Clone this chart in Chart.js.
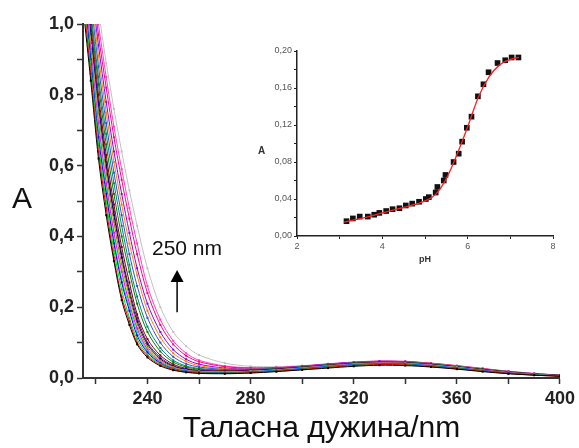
<!DOCTYPE html>
<html>
<head>
<meta charset="utf-8">
<script src="https://cdn.jsdelivr.net/npm/chart.js@4.4.1/dist/chart.umd.min.js"></script>
<style>
  html, body { margin:0; padding:0; background:#fff; }
  #wrap { position:relative; width:579px; height:448px; overflow:hidden; }
  #main { position:absolute; left:0; top:0; }
  #inset { position:absolute; left:230px; top:30px; }
  .lbl { position:absolute; font-family:"Liberation Sans", Arial, sans-serif; color:#111; white-space:nowrap; }
</style>
</head>
<body>
<div id="wrap">
  <canvas id="main" width="579" height="448"></canvas>
  <canvas id="inset" width="340" height="240"></canvas>
  <div class="lbl" style="left:12px;top:183px;font-size:30px;line-height:30px;">A</div>
  <div class="lbl" style="left:152px;top:237px;font-size:21px;line-height:21px;">250 nm</div>
  <div class="lbl" style="left:258px;top:146px;font-size:10px;line-height:10px;font-weight:bold;color:#333;">A</div>
</div>
<script>
// ---------- main chart data ----------
const wavelengths = [215,218,221,224,227,230,233,236,240,245,250,255,260,270,280,290,300,310,320,330,340,350,360,370,380,390,400];
const s01 = [1.05,0.84,0.62,0.46,0.33,0.22,0.15,0.095,0.058,0.034,0.022,0.016,0.013,0.012,0.014,0.018,0.023,0.028,0.033,0.036,0.035,0.031,0.025,0.018,0.012,0.008,0.005];
const s02 = [1.08,0.86,0.64,0.48,0.34,0.23,0.16,0.10,0.062,0.037,0.024,0.017,0.014,0.013,0.015,0.019,0.024,0.030,0.035,0.038,0.037,0.032,0.026,0.019,0.013,0.008,0.005];
const s03 = [1.10,0.88,0.66,0.50,0.36,0.25,0.17,0.11,0.066,0.040,0.025,0.018,0.015,0.014,0.016,0.020,0.025,0.031,0.036,0.039,0.038,0.033,0.027,0.020,0.013,0.009,0.006];
const s04 = [1.12,0.90,0.68,0.52,0.38,0.27,0.19,0.12,0.072,0.042,0.026,0.019,0.016,0.015,0.017,0.021,0.026,0.032,0.037,0.040,0.039,0.034,0.028,0.021,0.014,0.009,0.006];
const s05 = [1.13,0.91,0.70,0.53,0.39,0.28,0.20,0.13,0.076,0.044,0.027,0.020,0.017,0.016,0.018,0.022,0.027,0.033,0.038,0.041,0.040,0.035,0.029,0.021,0.014,0.009,0.006];
const s06 = [1.15,0.93,0.72,0.55,0.41,0.30,0.21,0.14,0.080,0.046,0.028,0.021,0.018,0.016,0.018,0.022,0.028,0.034,0.039,0.042,0.041,0.036,0.029,0.022,0.015,0.010,0.006];
const s07 = [1.16,0.94,0.73,0.56,0.42,0.31,0.22,0.145,0.083,0.047,0.029,0.021,0.018,0.017,0.019,0.023,0.028,0.034,0.039,0.042,0.041,0.036,0.030,0.022,0.015,0.010,0.006];
const s08 = [1.18,0.95,0.75,0.58,0.44,0.32,0.23,0.15,0.088,0.050,0.031,0.022,0.019,0.017,0.019,0.023,0.029,0.035,0.040,0.043,0.042,0.037,0.030,0.023,0.016,0.010,0.006];
const s09 = [1.19,0.97,0.77,0.60,0.46,0.34,0.24,0.16,0.095,0.054,0.033,0.024,0.020,0.018,0.020,0.024,0.029,0.035,0.040,0.043,0.042,0.037,0.031,0.023,0.016,0.010,0.006];
const s10 = [1.20,0.98,0.78,0.61,0.47,0.35,0.25,0.17,0.10,0.058,0.035,0.025,0.021,0.019,0.021,0.025,0.030,0.036,0.041,0.044,0.043,0.038,0.031,0.023,0.016,0.011,0.007];
const s11 = [1.22,1.00,0.80,0.63,0.49,0.37,0.27,0.18,0.11,0.064,0.039,0.027,0.022,0.020,0.022,0.025,0.030,0.036,0.041,0.044,0.043,0.038,0.031,0.024,0.017,0.011,0.007];
const s12 = [1.24,1.02,0.83,0.66,0.52,0.40,0.30,0.21,0.13,0.075,0.045,0.031,0.025,0.021,0.022,0.026,0.031,0.037,0.042,0.045,0.044,0.039,0.032,0.024,0.017,0.011,0.007];
const s13 = [1.26,1.04,0.85,0.69,0.55,0.43,0.32,0.23,0.145,0.085,0.050,0.034,0.027,0.022,0.023,0.026,0.031,0.037,0.042,0.045,0.044,0.039,0.032,0.024,0.017,0.011,0.007];
const s14 = [1.28,1.07,0.88,0.72,0.58,0.46,0.35,0.26,0.17,0.10,0.060,0.040,0.031,0.024,0.024,0.027,0.032,0.038,0.043,0.046,0.045,0.040,0.033,0.025,0.018,0.012,0.007];
const s15 = [1.30,1.10,0.91,0.75,0.61,0.49,0.38,0.29,0.19,0.115,0.070,0.047,0.035,0.026,0.025,0.027,0.032,0.038,0.043,0.046,0.045,0.041,0.034,0.026,0.018,0.012,0.008];
const s16 = [1.32,1.12,0.94,0.78,0.64,0.52,0.41,0.31,0.21,0.13,0.080,0.053,0.039,0.028,0.026,0.028,0.033,0.039,0.044,0.047,0.046,0.041,0.034,0.026,0.018,0.012,0.008];
const s17 = [1.34,1.15,0.97,0.82,0.68,0.56,0.45,0.35,0.24,0.15,0.095,0.063,0.046,0.032,0.028,0.029,0.033,0.039,0.044,0.047,0.046,0.041,0.034,0.026,0.018,0.012,0.008];
const s18 = [1.36,1.17,1.00,0.85,0.71,0.59,0.48,0.38,0.26,0.165,0.105,0.070,0.050,0.034,0.029,0.030,0.034,0.040,0.045,0.048,0.047,0.042,0.035,0.027,0.019,0.013,0.008];
const s19 = [1.40,1.20,1.04,0.89,0.76,0.64,0.53,0.43,0.31,0.20,0.13,0.090,0.065,0.042,0.033,0.032,0.035,0.040,0.045,0.048,0.047,0.042,0.035,0.027,0.019,0.013,0.008];
const spectra = [s01,s02,s03,s04,s05,s06,s07,s08,s09,s10,s11,s12,s13,s14,s15,s16,s17,s18,s19];
const spectraColors = ['#000000','#ff0000','#00e000','#0000ff','#00d8d8','#ff00ff','#e0e000','#808000','#000080','#800080','#800000','#008000','#008080','#3050d0','#ff8000','#8000ff','#ff0080','#ff40c0','#c0c0c0'];

const xTickValues = [220,240,260,280,300,320,340,360,380,400];
const xTickLabels = ['240','280','320','360','400'];
const yTickValues = [0,0.1,0.2,0.3,0.4,0.5,0.6,0.7,0.8,0.9,1.0];
const yTickLabels = ['0,0','0,2','0,4','0,6','0,8','1,0'];
const arrowAt = [251.5, 0.186, 0.305]; // wavelength, from A, to A

// ---------- inset data ----------
const insetPH = [3.16,3.31,3.47,3.66,3.81,3.93,4.09,4.24,4.40,4.55,4.70,4.86,5.02,5.09,5.25,5.29,5.44,5.48,5.67,5.79,5.87,5.98,6.09,6.24,6.37,6.49,6.70,6.88,7.03,7.19];
const insetA  = [0.016,0.019,0.021,0.021,0.023,0.025,0.027,0.029,0.030,0.033,0.035,0.037,0.040,0.042,0.047,0.053,0.060,0.066,0.080,0.089,0.102,0.117,0.129,0.151,0.164,0.177,0.187,0.190,0.193,0.193];
const fitPH = [3.1,3.5,4.0,4.5,5.0,5.25,5.5,5.75,6.0,6.25,6.5,6.75,7.0,7.2];
const fitA  = [0.015,0.019,0.025,0.031,0.038,0.045,0.062,0.088,0.118,0.150,0.172,0.185,0.191,0.193];
const insetXLabels = ['2','4','6','8'];
const insetYLabels = ['0,00','0,04','0,08','0,12','0,16','0,20'];

const FONT = '"Liberation Sans", Arial, sans-serif';

const arrowPlugin = {
  id: 'arrow',
  afterDatasetsDraw(chart) {
    const {ctx, scales: {x, y}} = chart;
    const px = x.getPixelForValue(arrowAt[0]);
    const y0 = y.getPixelForValue(arrowAt[1]);
    const y1 = y.getPixelForValue(arrowAt[2]);
    ctx.save();
    ctx.strokeStyle = '#000'; ctx.fillStyle = '#000'; ctx.lineWidth = 1.5;
    ctx.beginPath(); ctx.moveTo(px, y0); ctx.lineTo(px, y1 + 10); ctx.stroke();
    ctx.beginPath(); ctx.moveTo(px, y1); ctx.lineTo(px - 6.5, y1 + 12); ctx.lineTo(px + 6.5, y1 + 12); ctx.closePath(); ctx.fill();
    ctx.restore();
  }
};

const mainDatasets = spectra.map((s, i) => ({
  label: 'pH ' + (i + 1),
  data: wavelengths.map((w, j) => ({x: w, y: s[j]})),
  borderColor: spectraColors[i],
  backgroundColor: spectraColors[i],
  borderWidth: 1,
  pointRadius: 1.4,
  pointBorderWidth: 0,
  pointStyle: 'rect',
  tension: 0.3,
  fill: false
}));

new Chart(document.getElementById('main'), {
  type: 'line',
  data: { datasets: mainDatasets },
  plugins: [arrowPlugin],
  options: {
    responsive: false, animation: false, devicePixelRatio: 1,
    layout: { padding: { top: 24, right: 18, left: 0, bottom: 0 } },
    plugins: { legend: { display: false }, tooltip: { enabled: false } },
    scales: {
      x: {
        type: 'linear', min: 215, max: 400,
        afterBuildTicks: ax => { ax.ticks = xTickValues.map(v => ({value: v})); },
        afterFit: s => { s.height = 70; },
        ticks: {
          autoSkip: false, maxRotation: 0, padding: 4, color: '#222',
          font: { family: FONT, size: 18, weight: 'bold' },
          callback: v => (xTickLabels.includes(String(v)) ? String(v) : '')
        },
        grid: { drawOnChartArea: false, drawTicks: true, tickLength: 6, tickColor: '#333', tickWidth: 1.5 },
        border: { display: true, color: '#333', width: 2 },
        title: { display: true, text: 'Таласна дужина/nm', color: '#111', font: { family: FONT, size: 30 }, padding: { top: 0, bottom: 1 } }
      },
      y: {
        type: 'linear', min: 0, max: 1,
        afterBuildTicks: ax => { ax.ticks = yTickValues.map(v => ({value: v})); },
        afterFit: s => { s.width = 83; },
        ticks: {
          autoSkip: false, padding: 3, color: '#222',
          font: { family: FONT, size: 18, weight: 'bold' },
          callback: v => { const l = v.toFixed(1).replace('.', ','); return yTickLabels.includes(l) ? l : ''; }
        },
        grid: { drawOnChartArea: false, drawTicks: true, tickLength: 6, tickColor: '#333', tickWidth: 1.5 },
        border: { display: true, color: '#333', width: 2 }
      }
    }
  }
});

new Chart(document.getElementById('inset'), {
  type: 'line',
  data: {
    datasets: [
      {
        label: 'data',
        data: insetPH.map((p, i) => ({x: p, y: insetA[i]})),
        showLine: false, pointStyle: 'rect', pointRadius: 4,
        pointBackgroundColor: '#111', pointBorderColor: '#111', pointBorderWidth: 0,
        order: 2
      },
      {
        label: 'fit',
        data: fitPH.map((p, i) => ({x: p, y: fitA[i]})),
        borderColor: '#ff2020', borderWidth: 1.3, pointRadius: 0,
        cubicInterpolationMode: 'monotone', fill: false,
        order: 1
      }
    ]
  },
  options: {
    responsive: false, animation: false, devicePixelRatio: 1,
    layout: { padding: { top: 21, right: 17, left: 0, bottom: 0 } },
    plugins: { legend: { display: false }, tooltip: { enabled: false } },
    scales: {
      x: {
        type: 'linear', min: 2, max: 8,
        afterBuildTicks: ax => { ax.ticks = [2,3,4,5,6,7,8].map(v => ({value: v})); },
        afterFit: s => { s.height = 34; },
        ticks: {
          autoSkip: false, maxRotation: 0, padding: 2, color: '#555',
          font: { family: FONT, size: 9 },
          callback: v => (insetXLabels.includes(String(v)) ? String(v) : '')
        },
        grid: { drawOnChartArea: false, drawTicks: true, tickLength: 3, tickColor: '#222', tickWidth: 1 },
        border: { display: true, color: '#222', width: 1.5 },
        title: { display: true, text: 'pH', color: '#333', font: { family: FONT, size: 9, weight: 'bold' }, padding: { top: 0, bottom: 5 } }
      },
      y: {
        type: 'linear', min: 0, max: 0.2,
        afterBuildTicks: ax => { ax.ticks = [0,0.02,0.04,0.06,0.08,0.10,0.12,0.14,0.16,0.18,0.20].map(v => ({value: v})); },
        afterFit: s => { s.width = 67; },
        ticks: {
          autoSkip: false, padding: 2, color: '#555',
          font: { family: FONT, size: 9 },
          callback: v => { const l = v.toFixed(2).replace('.', ','); return insetYLabels.includes(l) ? l : ''; }
        },
        grid: { drawOnChartArea: false, drawTicks: true, tickLength: 3, tickColor: '#222', tickWidth: 1 },
        border: { display: true, color: '#222', width: 1.5 }
      }
    }
  }
});
</script>
</body>
</html>
